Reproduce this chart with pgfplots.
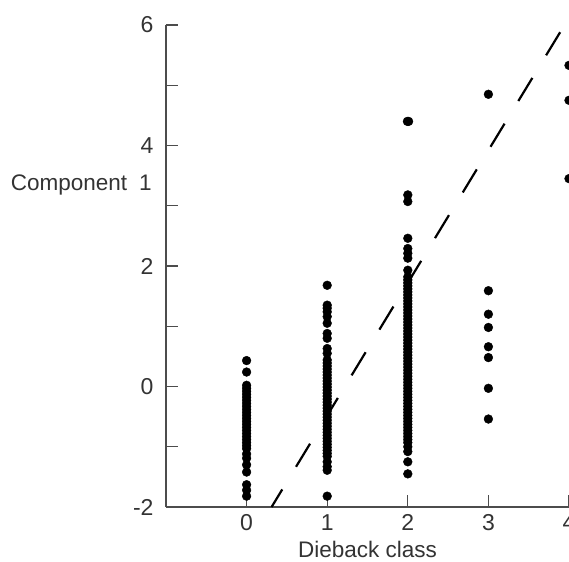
\documentclass[border=0pt]{standalone}
\usepackage{fontspec}
\setmainfont{Liberation Sans}
\usepackage{pgfplots}
\pgfplotsset{compat=1.18}
\begin{document}
\begin{tikzpicture}
\begin{axis}[
  name=ax, at={(0,0)}, anchor=south west,
  scale only axis, width=403pt, height=482pt,
  xmin=-1, xmax=4, ymin=-2, ymax=6,
  axis x line=bottom, axis y line=left,
  axis line style={-, line width=1.1pt, black!70},
  every tick/.style={line width=1.1pt, black!70},
  xtick={0,1,2,3,4}, ytick={-2,0,2,4,6}, minor ytick={-1,1,3,5},
  tick align=inside, major tick length=12pt, minor tick length=12pt,
  /pgf/number format/assume math mode=true,
  tick label style={font=\fontsize{23}{25}\selectfont, text=black!80},
  yticklabel style={xshift=-9pt, yshift=0pt},
  xticklabel style={yshift=-4pt},
  xlabel={Dieback class},
  xlabel style={font=\fontsize{22.5}{25}\selectfont, text=black!80, at={(axis description cs:0.5,0)}, anchor=north, inner sep=0pt, yshift=-34pt},
  ylabel={Component\hspace{12pt}1},
  ylabel style={font=\fontsize{22.5}{25}\selectfont, text=black!80, rotate=-90, at={(axis description cs:-0.035,0.668)}, anchor=east, inner sep=0pt},
]
\addplot[only marks, mark=*, mark size=4.4pt, black] coordinates {
(0,0.43) (0,0.24) (0,0.02) (0,-0.03) (0,-0.08) (0,-0.13) (0,-0.18) (0,-0.23) (0,-0.28) (0,-0.33) (0,-0.38) (0,-0.43) (0,-0.48) (0,-0.53) (0,-0.58) (0,-0.63) (0,-0.68) (0,-0.73) (0,-0.78) (0,-0.83) (0,-0.88) (0,-0.93) (0,-0.98) (0,-1.03) (0,-1.12) (0,-1.19) (0,-1.30) (0,-1.42) (0,-1.63) (0,-1.72) (0,-1.82)
};
\addplot[only marks, mark=*, mark size=4.4pt, black] coordinates {
(1,1.68) (1,1.35) (1,1.30) (1,1.24) (1,1.16) (1,1.05) (1,0.88) (1,0.80) (1,0.63) (1,0.55)
(1,0.44) (1,0.39) (1,0.34) (1,0.29) (1,0.24) (1,0.19) (1,0.14) (1,0.09) (1,0.04) (1,-0.01) (1,-0.06) (1,-0.11) (1,-0.16) (1,-0.21) (1,-0.26) (1,-0.31) (1,-0.36) (1,-0.41) (1,-0.46) (1,-0.51) (1,-0.56) (1,-0.61) (1,-0.66) (1,-0.71) (1,-0.76) (1,-0.81) (1,-0.86) (1,-0.91) (1,-0.96) (1,-1.01) (1,-1.06) (1,-1.11) (1,-1.16)
(1,-1.25) (1,-1.33) (1,-1.39) (1,-1.82)
};
\addplot[only marks, mark=*, mark size=4.4pt, black] coordinates {
(1.995,4.40) (2.01,4.40) (2,3.18) (2,3.07) (2,2.46) (2,2.29) (2,2.21) (2,2.13) (2,1.93)
(2,1.82) (2,1.77) (2,1.72) (2,1.67) (2,1.62) (2,1.57) (2,1.52) (2,1.47) (2,1.42) (2,1.37) (2,1.32) (2,1.27) (2,1.22) (2,1.17) (2,1.12) (2,1.07) (2,1.02) (2,0.97) (2,0.92) (2,0.87) (2,0.82) (2,0.77) (2,0.72) (2,0.67) (2,0.62) (2,0.57) (2,0.52) (2,0.47) (2,0.42) (2,0.37) (2,0.32) (2,0.27) (2,0.22) (2,0.17) (2,0.12) (2,0.07) (2,0.02) (2,-0.03) (2,-0.08) (2,-0.13) (2,-0.18) (2,-0.23) (2,-0.28) (2,-0.33) (2,-0.38) (2,-0.43) (2,-0.48) (2,-0.53) (2,-0.58) (2,-0.63) (2,-0.68) (2,-0.73) (2,-0.78) (2,-0.83) (2,-0.88) (2,-0.93)
(2,-1.00) (2,-1.08) (2,-1.25) (2,-1.45)
};
\addplot[only marks, mark=*, mark size=4.4pt, black] coordinates {
(3,4.85) (3,1.59) (3,1.20) (3,0.98) (3,0.66) (3,0.48) (3,-0.03) (3,-0.54)
(4,5.33) (4,4.75) (4,3.45)
};
\addplot[black, line width=2.2pt, dash pattern=on 27pt off 26.5pt] coordinates {(3.89,5.88) (0.31,-2)};
\end{axis}
\pgfresetboundingbox
\path[use as bounding box] ([shift={(-166pt,-54pt)}]ax.south west) rectangle ([yshift=25pt]ax.north east);
\end{tikzpicture}
\end{document}
